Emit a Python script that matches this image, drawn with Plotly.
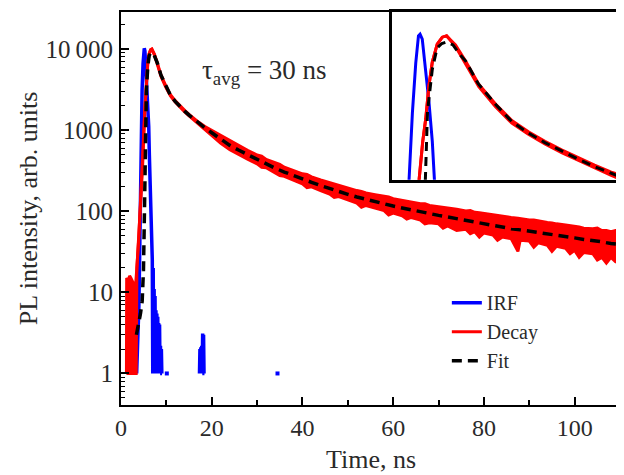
import plotly.graph_objects as go

# ---------------- data ----------------
# IRF (instrument response), counts vs time in ns; None breaks the line
irf_t = [3.45, 3.7, 3.95, 4.15, 4.3, 4.44, 4.65, 4.86, 5.03, 5.13, 5.27, 5.49, 5.69, 5.9, 6.11,
         6.25, 6.4, 6.55, 6.75, 6.9, 7.0, 7.1, 7.2, 7.3, 7.4, 7.5, 7.6, 7.7, 7.8, 7.9, 8.0,
         8.1, 8.2, 8.3, 8.4, 8.5, 8.6, 8.7, 8.8, 8.9, 9.0, 9.05,
         None, 17.3, 17.4, 17.5, 17.6, 17.7, 17.8, 17.9, 18.0, 18.1, 18.2, 18.3, 18.4]
irf_y = [1, 2.5, 7, 40, 250, 1115, 3100, 6600, 10000, 10250, 9500, 6040, 3650, 2000, 1120,
         500, 200, 80, 35, 25, 1, 20, 1, 11, 1, 9, 1, 6, 1, 5.5, 1,
         5, 1, 4.2, 1, 4, 1, 2.2, 1, 2, 1, 1,
         None, 1, 2, 1, 2.1, 1, 2.2, 1, 3.1, 1, 3, 1, 1]
irf_dot_t = [10.1, 34.5]
irf_dot_y = [1, 1]

# Decay: noisy measured data shown as lower / upper envelope of the noise
decay_t = [1.2, 1.25, 1.6, 1.9, 2.2, 2.5, 2.7, 3.0, 3.2, 3.35, 3.5, 3.9, 4.4, 4.8, 5.07,
           5.3, 5.49, 5.69, 5.9, 6.21, 6.53, 6.8, 7.36, 7.99, 8.82, 9.86, 10.9, 11.94, 12.98,
           14.03, 15.07, 16.1, 17.15, 18.5, 20, 22, 24, 26, 28, 30, 31, 32, 34, 35, 36, 38, 40,
           41, 42, 44, 46, 47, 48, 50, 52, 53, 54, 56, 58, 59, 60, 62, 63, 64, 66, 67, 68, 70,
           71, 72, 74, 76, 77, 78, 79, 80, 82, 83, 84, 86, 87.5, 88, 90, 91, 92, 94, 95, 96,
           98, 99, 100, 101, 102, 104, 105, 106, 107, 108, 109, 110]
decay_lo = [1, 1, 1, 1, 1, 1, 1, 1, 1, 1, 20, 45, 150, 400, 1110,
            2000, 2830, 4690, 6700, 8800, 9800, 10000, 8500, 6550, 4600, 3400, 2640, 2225, 1920,
            1685, 1495, 1330, 1190, 1030, 870, 690, 575, 495, 435, 385, 350, 345, 300, 275, 270, 240, 218,
            196, 200, 180, 163, 148, 152, 138, 126, 112, 118, 110, 102, 90, 95, 88, 80, 84, 78, 70, 72, 70,
            62, 66, 58, 60, 53, 56, 48, 54, 51, 44, 48, 46, 32, 44, 43, 36, 41, 38, 32, 37,
            35, 30, 33, 27, 31, 30, 25, 27, 23, 27, 24, 26]
decay_hi = [1, 15, 14, 16, 15, 14, 13, 12, 12, 20, 20, 45, 150, 400, 1110,
            2000, 2830, 4690, 6700, 8800, 9800, 10000, 8700, 6800, 4780, 3550, 2750, 2315, 2000,
            1755, 1555, 1390, 1250, 1110, 995, 860, 735, 645, 560, 495, 480, 435, 395, 380, 350, 318, 290,
            285, 266, 243, 225, 218, 207, 192, 180, 176, 168, 160, 152, 150, 143, 136, 134, 129, 124, 124, 118, 114,
            113, 110, 106, 101, 102, 97, 96, 94, 91, 90, 87, 84, 82, 81, 78, 78, 76, 73, 72, 70,
            68, 67, 65, 64, 62, 61, 62, 58, 58, 56, 58, 55]

# Fit
fit_t = [3.4, 3.9, 4.3, 4.67, 4.95, 5.1, 5.25, 5.35, 5.45, 5.6, 5.9, 6.2, 6.5, 6.8, 7.2,
         7.6, 8.0, 8.8, 9.9, 10.9, 11.94, 12.98, 14.03, 15.07, 16.1, 17.15, 18.5, 20, 22,
         24, 26, 28, 30, 32, 34, 36, 38, 40, 42, 44, 46, 48, 50, 52, 54, 56, 58, 60, 62,
         64, 66, 68, 70, 72, 74, 76, 78, 80, 82, 84, 86, 88, 90, 92, 94, 96, 98, 100, 102,
         104, 106, 108, 110]
fit_y = [3.0, 4.1, 5.5, 7.8, 18.8, 57, 146, 400, 1000, 3150, 6000, 8300, 8900, 9100, 8700,
         7600, 6800, 4800, 3500, 2700, 2270, 1960, 1720, 1525, 1360, 1220, 1070, 930, 770,
         650, 565, 495, 435, 380, 340, 305, 275, 250, 228, 208, 190, 175, 162, 150, 140, 132, 124, 116, 110,
         104, 98, 93, 89, 85, 81, 77, 73, 70, 67, 64, 61, 59, 57, 55, 53, 51, 49, 47, 45,
         44, 42, 40, 39]

# axes
x_ticks = [0, 20, 40, 60, 80, 100]
y_ticks = [1, 10, 100, 1000, 10000]
y_ticktext = ["1", "10", "100", "1000", "10\u2009000"]
y_minor = [0.4, 0.5, 0.6, 0.7, 0.8, 0.9] + [m * 10 ** k for k in range(4) for m in range(2, 10)] + [20000]

FONT = "Liberation Serif, Times New Roman, serif"
TXT = "#2a2a2a"
BLUE = "#0000ff"
RED = "#ff0000"

fig = go.Figure()

# ---------------- main panel ----------------
fig.add_trace(go.Scatter(x=irf_t, y=irf_y, mode="lines", name="IRF",
                         line=dict(color=BLUE, width=3.5), connectgaps=False))
fig.add_trace(go.Scatter(x=irf_dot_t, y=irf_dot_y, mode="markers", showlegend=False,
                         marker=dict(color=BLUE, size=4, symbol="square")))
fig.add_trace(go.Scatter(x=decay_t, y=decay_lo, mode="lines", name="Decay",
                         line=dict(color=RED, width=3)))
fig.add_trace(go.Scatter(x=decay_t, y=decay_hi, mode="lines", showlegend=False,
                         fill="tonexty", fillcolor=RED, line=dict(color=RED, width=3)))
fig.add_trace(go.Scatter(x=fit_t, y=fit_y, mode="lines", name="Fit",
                         line=dict(color="black", width=3.5, dash="10px,6px")))

# ---------------- inset ----------------
fig.add_trace(go.Scatter(x=irf_t, y=irf_y, mode="lines", showlegend=False, xaxis="x2", yaxis="y2",
                         line=dict(color=BLUE, width=3)))
fig.add_trace(go.Scatter(x=decay_t, y=decay_lo, mode="lines", showlegend=False, xaxis="x2", yaxis="y2",
                         line=dict(color=RED, width=3)))
fig.add_trace(go.Scatter(x=decay_t, y=decay_hi, mode="lines", showlegend=False, xaxis="x2", yaxis="y2",
                         fill="tonexty", fillcolor=RED, line=dict(color=RED, width=3)))
fig.add_trace(go.Scatter(x=fit_t, y=fit_y, mode="lines", showlegend=False, xaxis="x2", yaxis="y2",
                         line=dict(color="black", width=3, dash="9px,6px")))

# The page body adds an 8 px margin; the figure is sized so the plot area lands at
# x 121..622, y 9..405 of the 624x475 window.
fig.update_layout(
    width=616, height=467,
    margin=dict(l=113, r=2, t=1, b=70),
    paper_bgcolor="white", plot_bgcolor="white",
    font=dict(family=FONT, color=TXT, size=24),
    showlegend=True,
    legend=dict(x=0.653, y=0.31, xanchor="left", yanchor="top", traceorder="normal",
                bgcolor="rgba(0,0,0,0)", font=dict(size=20, family=FONT, color=TXT),
                tracegroupgap=0),
    xaxis=dict(range=[0, 110], tickvals=x_ticks, ticks="inside", ticklen=8, tickwidth=1.5,
               tickcolor="black", showline=True, linecolor="black", linewidth=2, mirror=True,
               showgrid=False, zeroline=False, tickfont=dict(size=24),
               minor=dict(dtick=10, tick0=0, ticks="inside", ticklen=5, tickwidth=1.5,
                          tickcolor="black", showgrid=False)),
    yaxis=dict(type="log", range=[-0.389, 4.458], tickvals=y_ticks, ticktext=y_ticktext,
               ticks="inside", ticklen=8, tickwidth=1.5, tickcolor="black",
               showline=True, linecolor="black", linewidth=2, mirror=True,
               showgrid=False, zeroline=False, tickfont=dict(size=25), ticklabelstandoff=1,
               minor=dict(tickvals=y_minor, ticks="inside", ticklen=4, tickwidth=1.2,
                          tickcolor="black", showgrid=False)),
    xaxis2=dict(domain=[0.5435, 1.0], anchor="y2", range=[3.38, 17.7],
                showticklabels=False, ticks="", showgrid=False, zeroline=False,
                showline=True, linecolor="black", linewidth=2.5, mirror=True),
    yaxis2=dict(domain=[0.573, 1.0], anchor="x2", type="log", range=[3.046, 4.158],
                showticklabels=False, ticks="", showgrid=False, zeroline=False,
                showline=True, linecolor="black", linewidth=2.5, mirror=True),
    annotations=[
        dict(text="Time, ns", xref="paper", yref="paper", x=0.501, y=-0.139,
             xanchor="center", yanchor="middle",
             showarrow=False, font=dict(size=26, family=FONT, color=TXT)),
        dict(text="PL intensity, arb. units", xref="paper", yref="paper", x=-0.185, y=0.5,
             xanchor="center", yanchor="middle",
             textangle=-90, showarrow=False, font=dict(size=26, family=FONT, color=TXT)),
        dict(text="\u03c4<sub>avg</sub> = 30 ns", xref="paper", yref="paper", x=0.287, y=0.847,
             xanchor="center", yanchor="middle",
             showarrow=False, font=dict(size=27, family=FONT, color=TXT)),
    ],
)

fig.write_html("out.html")
